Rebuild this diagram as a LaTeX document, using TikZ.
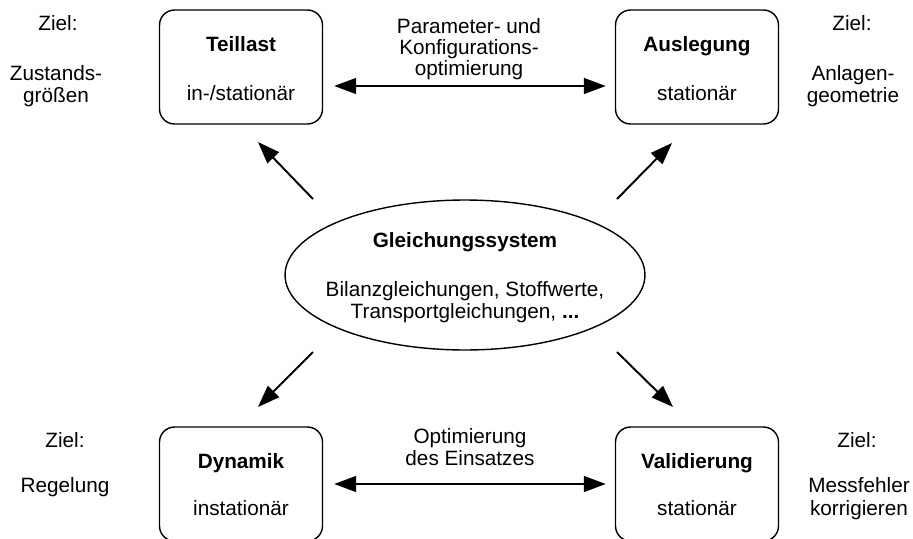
\documentclass[tikz,border=0pt]{standalone}
\usepackage{fontspec}
\setmainfont{Liberation Sans}
\usetikzlibrary{arrows.meta,shapes.geometric}

\begin{document}
\begin{tikzpicture}[x=0.02cm, y=-0.02cm,
    every node/.style={font=\fontsize{11.8}{14}\selectfont, inner sep=0pt},
    modebox/.style={draw, line width=0.8pt, rounded corners=0.3cm,
      minimum width=3.26cm, minimum height=2.28cm},
    txt/.style={anchor=base},
    pfeil/.style={line width=1.1pt, -{Triangle[length=12.5pt, width=9pt]}},
    dpfeil/.style={line width=1.1pt, {Triangle[length=12.5pt, width=9pt]}-{Triangle[length=12.5pt, width=9pt]}}]
      \useasboundingbox (0,0) rectangle (913,538);
      % the four operating modes
      \node[modebox] (teil) at (241,67) {};
      \node[modebox] (ausl) at (697,67) {};
      \node[modebox] (dyn) at (241,484) {};
      \node[modebox] (vali) at (697,484) {};
      \node[txt] (teilT) at (241,51) {\textbf{Teillast}};
      \node[txt] (teilS) at (241,100) {in-/stationär};
      \node[txt] (auslT) at (697,51) {\textbf{Auslegung}};
      \node[txt] (auslS) at (697,100) {stationär};
      \node[txt] (dynT) at (241,468) {\textbf{Dynamik}};
      \node[txt] (dynS) at (241,515) {instationär};
      \node[txt] (valiT) at (697,468) {\textbf{Validierung}};
      \node[txt] (valiS) at (697,515) {stationär};
      % goals beside the boxes
      \node[txt] (zielTL) at (58,30) {Ziel:};
      \node[txt] (zielTL1) at (56,80) {Zustands-};
      \node[txt] (zielTL2) at (56,102) {größen};
      \node[txt] (zielTR) at (852,30) {Ziel:};
      \node[txt] (zielTR1) at (853,80) {Anlagen-};
      \node[txt] (zielTR2) at (853,102) {geometrie};
      \node[txt] (zielBL) at (65,447) {Ziel:};
      \node[txt] (zielBL1) at (65,492) {Regelung};
      \node[txt] (zielBR) at (857,447) {Ziel:};
      \node[txt] (zielBR1) at (859,492) {Messfehler};
      \node[txt] (zielBR2) at (859,515) {korrigieren};
      % equation system in the middle
      \node[draw, ellipse, line width=0.8pt, minimum width=7.2cm, minimum height=3cm] (gls) at (465,275) {};
      \node[txt] (glsT) at (465,247) {\textbf{Gleichungssystem}};
      \node[txt] (gls1) at (465,296) {Bilanzgleichungen, Stoffwerte,};
      \node[txt] (gls2) at (465,318) {Transportgleichungen, \textbf{...}};
      % optimisation between the modes
      \node[txt] (opt1) at (469,33) {Parameter- und};
      \node[txt] (opt2) at (469,54) {Konfigurations-};
      \node[txt] (opt3) at (469,75) {optimierung};
      \node[txt] (eins1) at (470,443) {Optimierung};
      \node[txt] (eins2) at (470,465) {des Einsatzes};
      \coordinate (pk1) at ([shift={(11,19)}]teil.east);
      \coordinate (pk2) at ([shift={(-9,19)}]ausl.west);
      \coordinate (oe1) at ([shift={(11,0)}]dyn.east);
      \coordinate (oe2) at ([shift={(-9,0)}]vali.west);
      \draw[dpfeil] (pk1) -- (pk2);
      \draw[dpfeil] (oe1) -- (oe2);
      % diagonal arrows out of the equation system
      \coordinate (gTL) at (313,199);
      \coordinate (gTR) at (617,199);
      \coordinate (gBL) at (313,352);
      \coordinate (gBR) at (617,352);
      \coordinate (tTL) at (258,142);
      \coordinate (tTR) at (672,143);
      \coordinate (tBL) at (258,407);
      \coordinate (tBR) at (673,407);
      \draw[pfeil] (gTL) -- (tTL);
      \draw[pfeil] (gTR) -- (tTR);
      \draw[pfeil] (gBL) -- (tBL);
      \draw[pfeil] (gBR) -- (tBR);
    \end{tikzpicture}
\end{document}
